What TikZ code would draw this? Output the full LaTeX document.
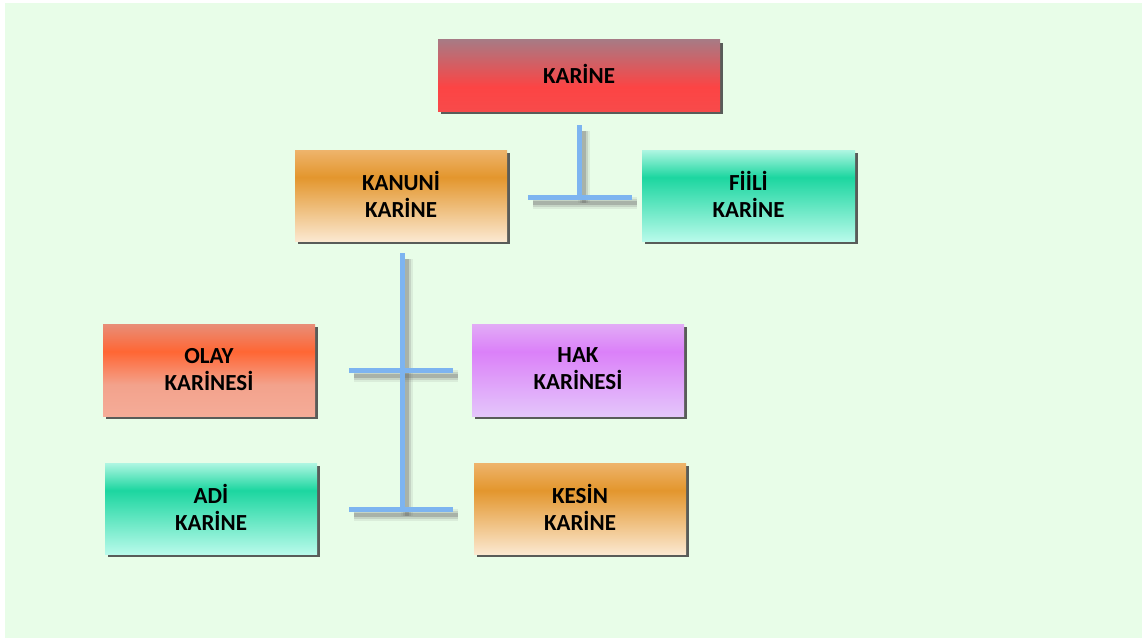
\documentclass[tikz,border=0pt]{standalone}
\usepackage{fontspec}
\setmainfont{Carlito}
\usetikzlibrary{shadows,calc}
\definecolor{bgcol}{RGB}{232,253,232}
\definecolor{linecol}{RGB}{125,180,240}
\definecolor{rA}{RGB}{168,122,132}\definecolor{rB}{RGB}{252,68,68}\definecolor{rC}{RGB}{248,74,74}
\definecolor{oA}{RGB}{238,180,108}\definecolor{oB}{RGB}{227,150,45}\definecolor{oC}{RGB}{251,232,208}
\definecolor{gA}{RGB}{175,246,226}\definecolor{gB}{RGB}{28,214,160}\definecolor{gC}{RGB}{184,250,234}
\definecolor{sA}{RGB}{232,142,120}\definecolor{sB}{RGB}{255,102,52}\definecolor{sC}{RGB}{243,162,140}\definecolor{sD}{RGB}{245,172,152}
\definecolor{vA}{RGB}{226,172,246}\definecolor{vB}{RGB}{219,128,249}\definecolor{vC}{RGB}{228,198,250}
\pgfdeclareverticalshading{shred}{100bp}{color(0bp)=(rC); color(25bp)=(rC); color(42bp)=(rB); color(75bp)=(rA); color(100bp)=(rA)}
\pgfdeclareverticalshading{shorange}{100bp}{color(0bp)=(oC); color(25bp)=(oC); color(60bp)=(oB); color(75bp)=(oA); color(100bp)=(oA)}
\pgfdeclareverticalshading{shgreen}{100bp}{color(0bp)=(gC); color(25bp)=(gC); color(60bp)=(gB); color(75bp)=(gA); color(100bp)=(gA)}
\pgfdeclareverticalshading{shsalmon}{100bp}{color(0bp)=(sD); color(25bp)=(sD); color(42bp)=(sC); color(60bp)=(sB); color(75bp)=(sA); color(100bp)=(sA)}
\pgfdeclareverticalshading{shviolet}{100bp}{color(0bp)=(vC); color(25bp)=(vC); color(60bp)=(vB); color(75bp)=(vA); color(100bp)=(vA)}
\tikzset{
  box/.style={rectangle, inner sep=0pt, minimum width=212pt, minimum height=91pt, align=center,
    font=\fontsize{23}{27}\selectfont\bfseries, text=black,
    drop shadow={shadow xshift=3pt, shadow yshift=-3pt, fill=black!75, opacity=0.85}},
  conn/.style={line width=5pt, draw=linecol},
  shA/.style={line width=12pt, draw=black!60, opacity=0.10, transform canvas={xshift=5pt, yshift=-6pt}},
  shB/.style={line width=8pt, draw=black!60, opacity=0.18, transform canvas={xshift=5pt, yshift=-6pt}},
  shC/.style={line width=4pt, draw=black!60, opacity=0.30, transform canvas={xshift=5pt, yshift=-6pt}},
}
\begin{document}
\begin{tikzpicture}[x=1pt,y=-1pt]
\useasboundingbox (0,0) rectangle (1142,642);
\fill[bgcol] (5,3) rectangle (1142,638);

\node[box, shading=shred, minimum width=282pt, minimum height=71pt] (karine) at (579,75.5) {\raisebox{3pt}{KARİNE}};
\node[box, shading=shorange] (kanuni) at (401,195.5) {\raisebox{2pt}{KANUNİ}\\\raisebox{2pt}{KARİNE}};
\node[box, shading=shgreen, minimum width=213pt] (fiili) at (748.5,195.5) {\raisebox{2pt}{FİİLİ}\\\raisebox{2pt}{KARİNE}};
\node[box, shading=shsalmon, minimum height=92pt] (olay) at (209,370) {\raisebox{2pt}{OLAY}\\\raisebox{2pt}{KARİNESİ}};
\node[box, shading=shviolet, minimum height=92pt] (hak) at (578,370) {\raisebox{2pt}{HAK}\\\raisebox{2pt}{KARİNESİ}};
\node[box, shading=shgreen] (adi) at (211,508.5) {\raisebox{2pt}{ADİ}\\\raisebox{2pt}{KARİNE}};
\node[box, shading=shorange] (kesin) at (580,508.5) {\raisebox{2pt}{KESİN}\\\raisebox{2pt}{KARİNE}};

\coordinate (t1a) at (579,125);
\coordinate (t1b) at (579,197);
\coordinate (t1l) at (528,197);
\coordinate (t1r) at (632,197);
\coordinate (t2a) at (402,253);
\coordinate (t2b) at (402,510);
\coordinate (t2l) at (349,370);
\coordinate (t2r) at (453,370);
\coordinate (t3l) at (349,509);
\coordinate (t3r) at (453,509);

\foreach \s in {shA,shB,shC}{
  \draw[\s] (t1a) -- (t1b);
  \draw[\s] (t1l) -- (t1r);
  \draw[\s] (t2a) -- (t2b);
  \draw[\s] (t2l) -- (t2r);
  \draw[\s] (t3l) -- (t3r);
}

\draw[conn] (t1a) -- (t1b);
\draw[conn] (t1l) -- (t1r);
\draw[conn] (t2a) -- (t2b);
\draw[conn] (t2l) -- (t2r);
\draw[conn] (t3l) -- (t3r);
\end{tikzpicture}
\end{document}
